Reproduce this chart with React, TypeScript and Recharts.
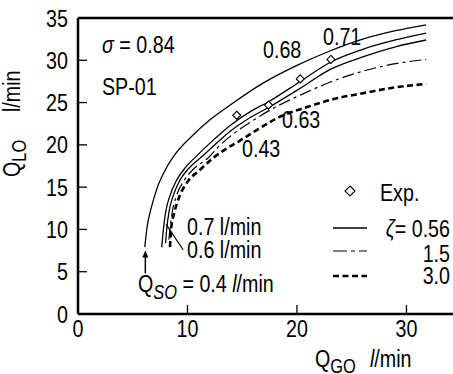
import { ComposedChart, Line, Scatter, XAxis, YAxis, ReferenceLine, ReferenceDot } from 'recharts'

const FONT = "'Liberation Sans', Arial, sans-serif"
const NARROW = 0.82

// Q_SO = 0.4 l/min, zeta = 0.56
const qso04X = [6.1, 6.3, 6.7, 7.2, 8.0, 9.0, 10.3, 12.0, 14.0, 16.9, 20.0, 23.0, 26.0, 29.0, 31.8]
const qso04Y = [7.9, 10.2, 12.6, 14.8, 17.1, 19.1, 20.9, 22.9, 24.8, 27.3, 29.4, 31.1, 32.5, 33.5, 34.2]
// Q_SO = 0.6 l/min, zeta = 0.56
const qso06X = [7.65, 7.8, 8.0, 8.4, 9.0, 9.8, 11.0, 12.3, 13.9, 15.7, 17.4, 20.3, 23.1, 26.0, 29.0, 31.8]
const qso06Y = [7.9, 10.0, 12.0, 14.0, 15.8, 17.3, 18.9, 20.5, 22.3, 23.9, 25.1, 27.5, 29.8, 31.3, 32.4, 33.2]
// Q_SO = 0.7 l/min, zeta = 0.56
const qso07X = [8.0, 8.1, 8.3, 8.7, 9.3, 10.1, 11.3, 12.5, 13.9, 15.7, 17.5, 20.3, 23.0, 26.0, 29.0, 31.8]
const qso07Y = [8.4, 10.0, 12.0, 14.0, 15.8, 17.2, 18.6, 20.0, 21.6, 23.2, 24.5, 26.7, 28.9, 30.4, 31.6, 32.4]
// zeta = 1.5
const zeta15X = [8.3, 8.4, 8.6, 9.0, 9.7, 10.6, 11.75, 13.0, 14.5, 16.0, 17.8, 20.5, 23.0, 26.0, 29.0, 31.8]
const zeta15Y = [8.8, 10.0, 12.0, 14.0, 15.8, 17.2, 18.3, 20.0, 21.6, 22.9, 24.3, 26.0, 27.4, 28.7, 29.6, 30.1]
// zeta = 3.0
const zeta30X = [8.4, 8.5, 8.8, 9.3, 10.1, 11.1, 12.4, 13.6, 14.8, 16.5, 18.4, 21.0, 23.3, 26.0, 29.0, 31.8]
const zeta30Y = [7.9, 10.0, 12.0, 14.0, 15.8, 17.0, 18.5, 19.6, 20.5, 21.9, 23.3, 24.5, 25.4, 26.1, 26.8, 27.2]
// experiment
const expX = [14.5, 17.4, 20.3, 23.1]
const expY = [23.5, 24.7, 27.8, 30.1]

const xTicks = [0, 10, 20, 30]
const yTicks = [0, 5, 10, 15, 20, 25, 30, 35]

const zip = (xs: number[], ys: number[]) => xs.map((x, i) => ({ x, y: ys[i] }))

// Arial-Narrow-like text: squeeze glyphs horizontally around the anchor
const NText = ({ x, y, anchor = 'start', size = 24, children }: any) => (
  <text
    transform={`translate(${x},${y}) scale(${NARROW},1)`}
    textAnchor={anchor}
    fontFamily={FONT}
    fontSize={size}
    fill="#000"
  >
    {children}
  </text>
)

const XTick = ({ x, y, payload }: any) => (
  <NText x={x} y={y + 17} anchor="middle">{payload.value}</NText>
)
const YTick = ({ x, y, payload }: any) => (
  <NText x={x} y={y + 8.5} anchor="end">{payload.value}</NText>
)

const Diamond = (props: any) => {
  const { cx, cy } = props
  const r = 4
  return (
    <polygon
      points={`${cx},${cy - r} ${cx + r},${cy} ${cx},${cy + r} ${cx - r},${cy}`}
      fill="#fff"
      stroke="#000"
      strokeWidth={1.1}
    />
  )
}

const ArrowHead = (props: any) => {
  const { cx, cy } = props
  return <polygon points={`${cx - 3},${cy + 7} ${cx + 3},${cy + 7} ${cx},${cy}`} fill="#000" />
}

export default function App() {
  return (
    <div style={{ position: 'absolute', left: 0, top: 0, width: 453, height: 374, background: '#fff' }}>
      <ComposedChart width={453} height={374} margin={{ top: 18, right: 0, bottom: 0, left: 0 }}>
        <XAxis
          type="number"
          dataKey="x"
          domain={[0, 34.25]}
          ticks={xTicks}
          interval={0}
          allowDataOverflow
          height={60}
          tickSize={-9}
          tickMargin={15}
          tick={XTick}
          axisLine={{ stroke: '#000', strokeWidth: 2.5 }}
          tickLine={{ stroke: '#000', strokeWidth: 1.3 }}
        />
        <YAxis
          type="number"
          dataKey="y"
          domain={[0, 35]}
          ticks={yTicks}
          interval={0}
          allowDataOverflow
          width={78}
          tickSize={-9}
          tickMargin={19}
          tick={YTick}
          axisLine={{ stroke: '#000', strokeWidth: 2.5 }}
          tickLine={{ stroke: '#000', strokeWidth: 1.3 }}
        />
        <ReferenceLine y={35} stroke="#000" strokeWidth={2.5} />
        <Line data={zip(qso04X, qso04Y)} dataKey="y" type="monotone" stroke="#000" strokeWidth={1.3} dot={false} activeDot={false} isAnimationActive={false} />
        <Line data={zip(qso06X, qso06Y)} dataKey="y" type="monotone" stroke="#000" strokeWidth={1.3} dot={false} activeDot={false} isAnimationActive={false} />
        <Line data={zip(qso07X, qso07Y)} dataKey="y" type="monotone" stroke="#000" strokeWidth={1.3} dot={false} activeDot={false} isAnimationActive={false} />
        <Line data={zip(zeta15X, zeta15Y)} dataKey="y" type="monotone" stroke="#000" strokeWidth={1.2} strokeDasharray="12 4 3 4" dot={false} activeDot={false} isAnimationActive={false} />
        <Line data={zip(zeta30X, zeta30Y)} dataKey="y" type="monotone" stroke="#000" strokeWidth={2.6} strokeDasharray="6 3.5" dot={false} activeDot={false} isAnimationActive={false} />
        <Scatter data={zip(expX, expY)} dataKey="y" shape={Diamond} isAnimationActive={false} />
        <ReferenceLine segment={[{ x: 6.15, y: 4.8 }, { x: 6.15, y: 6.9 }]} stroke="#000" strokeWidth={1.5} />
        <ReferenceDot x={6.15} y={7.5} shape={ArrowHead} />
        <ReferenceLine segment={[{ x: 8.05, y: 10.6 }, { x: 9.6, y: 7.6 }]} stroke="#000" strokeWidth={1.2} />
      </ComposedChart>
      <svg width={453} height={374} style={{ position: 'absolute', left: 0, top: 0, pointerEvents: 'none' }}>
        <NText x={102} y={53}><tspan fontStyle="italic">σ</tspan> = 0.84</NText>
        <NText x={102} y={95}>SP-01</NText>
        <NText x={263} y={58}>0.68</NText>
        <NText x={323} y={45}>0.71</NText>
        <NText x={282} y={128}>0.63</NText>
        <NText x={242} y={157}>0.43</NText>
        <NText x={187} y={235}>0.7 l/min</NText>
        <NText x={187} y={258}>0.6 l/min</NText>
        <NText x={138} y={292}>Q<tspan fontSize={20} fontStyle="italic" dy={7}>SO</tspan><tspan dy={-7}> = 0.4 </tspan><tspan fontStyle="italic">l</tspan>/min</NText>

        <polygon points="350,186 355,191 350,196 345,191" fill="#fff" stroke="#000" strokeWidth={1.1} />
        <NText x={380} y={201}>Exp.</NText>
        <line x1={333} y1={228} x2={367} y2={228} stroke="#000" strokeWidth={1.3} />
        <NText x={450} y={237} anchor="end"><tspan fontStyle="italic">ζ</tspan>= 0.56</NText>
        <line x1={333} y1={251} x2={367} y2={251} stroke="#000" strokeWidth={1.2} strokeDasharray="14 4 4 4" />
        <NText x={450} y={262} anchor="end">1.5</NText>
        <line x1={333} y1={276} x2={367} y2={276} stroke="#000" strokeWidth={2.6} strokeDasharray="6 3.5" />
        <NText x={450} y={284} anchor="end">3.0</NText>

        <NText x={315} y={367}>Q<tspan fontSize={20} dy={6}>GO</tspan></NText>
        <NText x={370} y={367}><tspan fontStyle="italic">l</tspan>/min</NText>
        <g transform="translate(20,177) rotate(-90)">
          <NText x={0} y={0}>Q<tspan fontSize={20} dy={6}>LO</tspan></NText>
          <NText x={65} y={0}>l/min</NText>
        </g>
      </svg>
    </div>
  )
}
